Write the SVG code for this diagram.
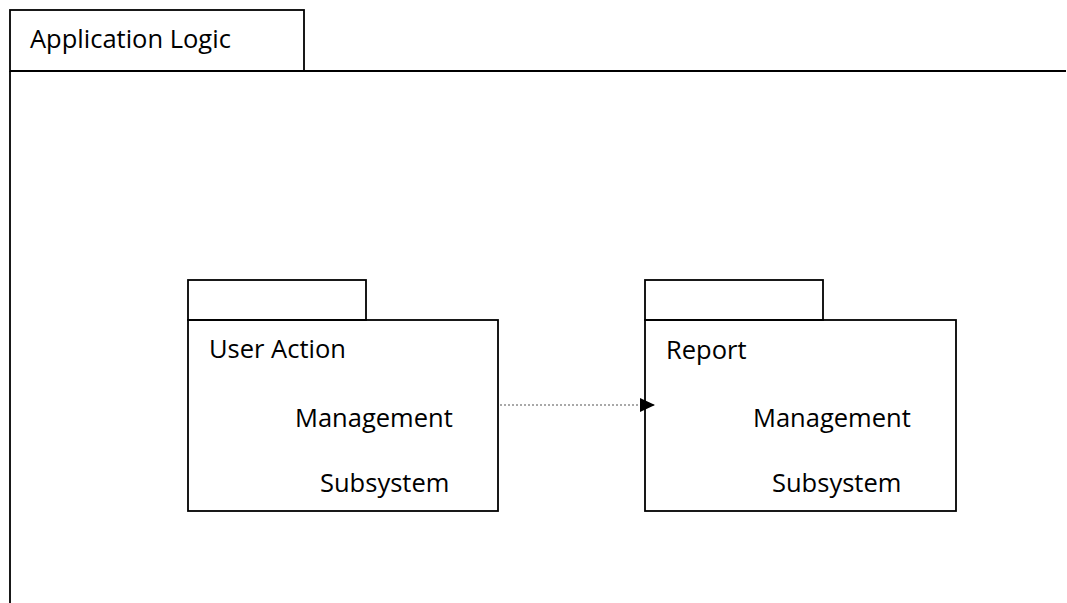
<svg xmlns="http://www.w3.org/2000/svg" width="1067" height="603" viewBox="0 0 1067 603">
  <style>
    .frame { fill: none; stroke: #000; stroke-width: 1.8; }
    .label { font-family: "Open Sans", "Liberation Sans", sans-serif; font-size: 25.5px; fill: #000; }
    .dep { fill: none; stroke: #555; stroke-width: 1.2; stroke-dasharray: 2 2; }
  </style>
  <defs>
    <marker id="arrowHead" markerWidth="16" markerHeight="14" refX="15" refY="7" orient="auto" markerUnits="userSpaceOnUse">
      <path d="M0,0 L15,7 L0,14 Z" fill="#000"/>
    </marker>
  </defs>
  <rect width="1067" height="603" fill="#fff"/>

  <!-- outer package: Application Logic -->
  <g id="application-logic">
    <rect class="frame" x="10" y="10" width="294" height="61"/>
    <path class="frame" d="M10,71 L1066,71 M10,71 L10,603"/>
    <text class="label" x="30" y="48">Application Logic</text>
  </g>

  <!-- package: User Action Management Subsystem -->
  <g id="user-action-management">
    <rect class="frame" x="188" y="280" width="178" height="40"/>
    <rect class="frame" x="188" y="320" width="310" height="191"/>
    <text class="label" x="209" y="358">User Action</text>
    <text class="label" x="295" y="427">Management</text>
    <text class="label" x="320" y="492">Subsystem</text>
  </g>

  <!-- package: Report Management Subsystem -->
  <g id="report-management">
    <rect class="frame" x="645" y="280" width="178" height="40"/>
    <rect class="frame" x="645" y="320" width="311" height="191"/>
    <text class="label" x="666" y="359">Report</text>
    <text class="label" x="753" y="427">Management</text>
    <text class="label" x="772" y="492">Subsystem</text>
  </g>

  <!-- dependency -->
  <g id="connectors">
    <line class="dep" x1="500" y1="405" x2="655" y2="405" marker-end="url(#arrowHead)"/>
  </g>
</svg>
